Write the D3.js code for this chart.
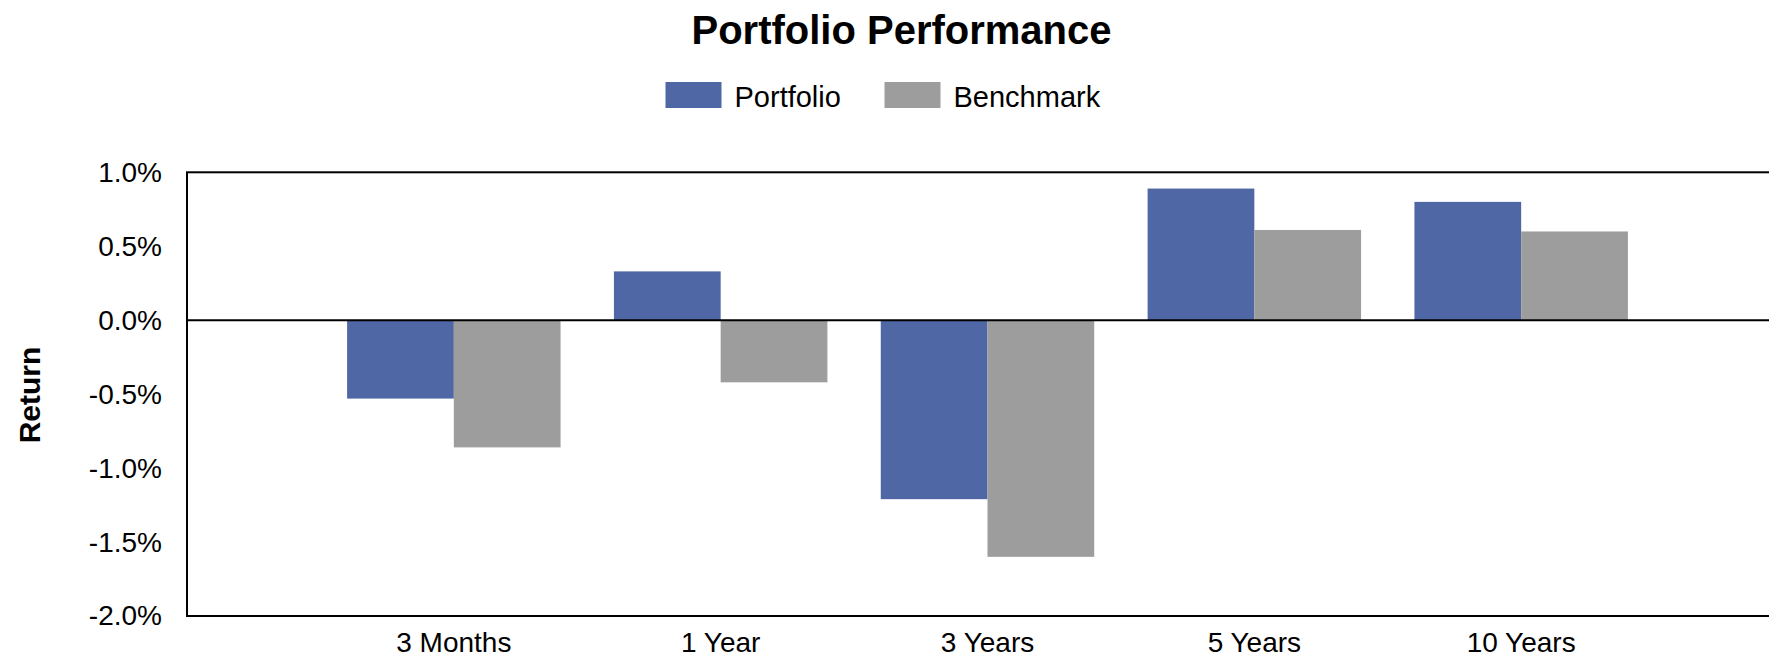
<!DOCTYPE html>
<html>
<head>
<meta charset="utf-8">
<script src="https://cdn.jsdelivr.net/npm/d3@7"></script>
<style>
  html, body { margin: 0; padding: 0; background: #ffffff; }
  svg { display: block; font-family: "Liberation Sans", Arial, sans-serif; }
</style>
</head>
<body>
<svg id="chart" width="1769" height="656"></svg>
<script>
// Periods shown along the x axis
const categories = ["3 Months", "1 Year", "3 Years", "5 Years", "10 Years"];
// Returns in percent
const portfolio = [-0.53, 0.33, -1.21, 0.89, 0.80];
const benchmark = [-0.86, -0.42, -1.60, 0.61, 0.60];
const seriesNames = ["Portfolio", "Benchmark"];
const seriesColors = ["#4F67A5", "#9D9D9D"];
const yTicks = [-2.0, -1.5, -1.0, -0.5, 0.0, 0.5, 1.0];

const svg = d3.select("#chart");
const plot = { left: 187, top: 172.3, bottom: 616, right: 1788 };

const rows = categories.map((c, i) => ({ category: c, values: [portfolio[i], benchmark[i]] }));

const x0 = d3.scaleBand()
  .domain(categories)
  .range([plot.left, plot.right])
  .paddingInner(0.2)
  .paddingOuter(0.6);

const x1 = d3.scaleBand()
  .domain(seriesNames)
  .range([0, x0.bandwidth()])
  .padding(0);

const y = d3.scaleLinear()
  .domain([-2, 1])
  .range([plot.bottom, plot.top]);

const color = d3.scaleOrdinal().domain(seriesNames).range(seriesColors);

// Percent labels with a plain hyphen for negatives
const pct = d => (d < 0 ? "-" : "") + Math.abs(d).toFixed(1) + "%";

// Title
svg.append("text")
  .attr("x", 901.5)
  .attr("y", 44)
  .attr("text-anchor", "middle")
  .attr("font-size", 40)
  .attr("font-weight", "bold")
  .attr("fill", "#000")
  .text("Portfolio Performance");

// Legend
const legendItems = [
  { name: seriesNames[0], x: 665.5 },
  { name: seriesNames[1], x: 884.5 }
];
const legend = svg.append("g");
legendItems.forEach(item => {
  legend.append("rect")
    .attr("x", item.x)
    .attr("y", 82)
    .attr("width", 56)
    .attr("height", 26)
    .attr("fill", color(item.name));
  legend.append("text")
    .attr("x", item.x + 69)
    .attr("y", 107)
    .attr("font-size", 29)
    .attr("fill", "#000")
    .text(item.name);
});

// Bars
const groups = svg.append("g")
  .selectAll("g")
  .data(rows)
  .join("g")
  .attr("transform", d => `translate(${x0(d.category)},0)`);

groups.selectAll("rect")
  .data(d => seriesNames.map((s, j) => ({ series: s, value: d.values[j] })))
  .join("rect")
  .attr("x", d => x1(d.series))
  .attr("width", x1.bandwidth())
  .attr("y", d => y(Math.max(0, d.value)))
  .attr("height", d => Math.abs(y(d.value) - y(0)))
  .attr("fill", d => color(d.series));

// Plot frame
svg.append("rect")
  .attr("x", plot.left)
  .attr("y", plot.top)
  .attr("width", plot.right - plot.left)
  .attr("height", plot.bottom - plot.top)
  .attr("fill", "none")
  .attr("stroke", "#000")
  .attr("stroke-width", 2);

// Zero line
svg.append("line")
  .attr("x1", plot.left)
  .attr("x2", plot.right)
  .attr("y1", y(0))
  .attr("y2", y(0))
  .attr("stroke", "#000")
  .attr("stroke-width", 2);

// Y axis labels
const yAxis = svg.append("g")
  .attr("transform", `translate(${plot.left},0)`)
  .call(d3.axisLeft(y)
    .tickValues(yTicks)
    .tickSize(0)
    .tickPadding(25)
    .tickFormat(pct));
yAxis.select(".domain").remove();
yAxis.selectAll("text")
  .attr("font-size", 28)
  .attr("font-family", "Liberation Sans, Arial, sans-serif")
  .attr("fill", "#000");

// X axis labels
const xAxis = svg.append("g")
  .attr("transform", `translate(0,${plot.bottom})`)
  .call(d3.axisBottom(x0).tickSize(0).tickPadding(16));
xAxis.select(".domain").remove();
xAxis.selectAll("text")
  .attr("font-size", 28)
  .attr("font-family", "Liberation Sans, Arial, sans-serif")
  .attr("fill", "#000");

// Y axis title
svg.append("text")
  .attr("transform", "translate(40,395) rotate(-90)")
  .attr("text-anchor", "middle")
  .attr("font-size", 30)
  .attr("font-weight", "bold")
  .attr("fill", "#000")
  .text("Return");
</script>
</body>
</html>
